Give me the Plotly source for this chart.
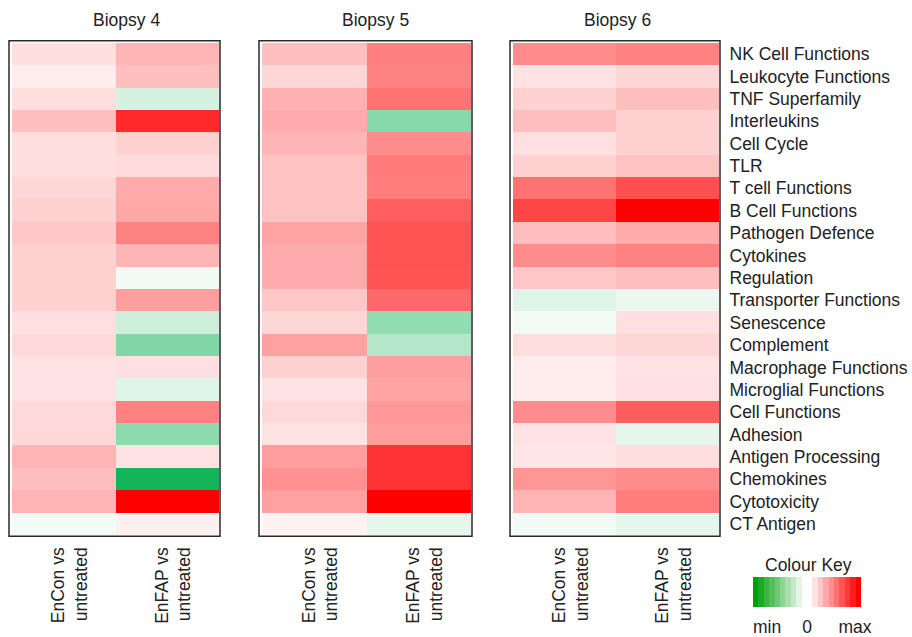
import plotly.graph_objects as go

# Gene-set categories (top to bottom) and comparison columns
categories = [
    "NK Cell Functions", "Leukocyte Functions", "TNF Superfamily", "Interleukins",
    "Cell Cycle", "TLR", "T cell Functions", "B Cell Functions", "Pathogen Defence",
    "Cytokines", "Regulation", "Transporter Functions", "Senescence", "Complement",
    "Macrophage Functions", "Microglial Functions", "Cell Functions", "Adhesion",
    "Antigen Processing", "Chemokines", "Cytotoxicity", "CT Antigen",
]
comparisons = ["EnCon vs<br>untreated", "EnFAP vs<br>untreated"]
biopsies = ["Biopsy 4", "Biopsy 5", "Biopsy 6"]

# Scaled scores (-1 = min, 0 = no change, 1 = max)
biopsy4_encon = [0.13, 0.07, 0.13, 0.25, 0.13, 0.13, 0.16, 0.18, 0.22, 0.18, 0.18,
                 0.18, 0.12, 0.15, 0.11, 0.11, 0.15, 0.15, 0.29, 0.25, 0.29, -0.055]
biopsy4_enfap = [0.29, 0.25, -0.18, 0.84, 0.18, 0.14, 0.33, 0.34, 0.49, 0.29, -0.06,
                 0.38, -0.21, -0.53, 0.12, -0.13, 0.49, -0.49, 0.11, -1.0, 1.0, 0.06]
biopsy5_encon = [0.25, 0.16, 0.31, 0.33, 0.29, 0.24, 0.24, 0.24, 0.36, 0.33, 0.33,
                 0.22, 0.16, 0.37, 0.18, 0.11, 0.15, 0.11, 0.38, 0.43, 0.37, 0.05]
biopsy5_enfap = [0.50, 0.49, 0.55, -0.51, 0.45, 0.52, 0.51, 0.63, 0.68, 0.68, 0.67,
                 0.59, -0.47, -0.32, 0.38, 0.36, 0.40, 0.39, 0.80, 0.80, 1.0, -0.11]
biopsy6_encon = [0.45, 0.11, 0.18, 0.25, 0.12, 0.18, 0.55, 0.73, 0.26, 0.45, 0.22,
                 -0.13, -0.05, 0.13, 0.07, 0.07, 0.45, 0.11, 0.10, 0.41, 0.29, -0.06]
biopsy6_enfap = [0.49, 0.16, 0.25, 0.18, 0.18, 0.24, 0.69, 1.0, 0.33, 0.49, 0.25,
                 -0.09, 0.12, 0.16, 0.11, 0.12, 0.63, -0.11, 0.13, 0.45, 0.51, -0.11]

key_title = "Colour Key"
key_ticks = ["min", "0", "max"]

W, H = 912, 637
TEXT = "#222222"
FONT = "Arial, Liberation Sans, sans-serif"
FS = 17.5


def fx(p):
    return p / W


def fy(p):
    return 1 - p / H


cell_scale = [[0.0, "rgb(20,180,90)"], [0.5, "rgb(255,255,255)"], [1.0, "rgb(255,0,0)"]]


# Stepped green-white-red ramp for the colour key
def stepped_key(n_side=10):
    lo, mid, hi = (0, 158, 8), (255, 255, 255), (255, 0, 0)
    cols = []
    for i in range(n_side):
        t = i / (n_side - 1)
        cols.append(tuple(round(lo[k] + (mid[k] - lo[k]) * t) for k in range(3)))
    for i in range(n_side):
        t = i / (n_side - 1)
        cols.append(tuple(round(mid[k] + (hi[k] - mid[k]) * t) for k in range(3)))
    n = len(cols)
    scale = []
    for i, c in enumerate(cols):
        s = f"rgb({c[0]},{c[1]},{c[2]})"
        scale.append([i / n, s])
        scale.append([(i + 1) / n, s])
    return scale


panel_values = [
    (biopsy4_encon, biopsy4_enfap),
    (biopsy5_encon, biopsy5_enfap),
    (biopsy6_encon, biopsy6_enfap),
]
panel_px = [(12, 219), (262, 471), (513, 719)]
title_px = [127, 375, 617]
cell_top, cell_bottom = 43, 537

fig = go.Figure()
shapes = []
annotations = []

for i, ((c1, c2), (x0, x1)) in enumerate(zip(panel_values, panel_px)):
    n = i + 1
    z = [[a, b] for a, b in zip(c1, c2)]
    fig.add_trace(go.Heatmap(
        z=z, x=comparisons, y=categories,
        colorscale=cell_scale, zmin=-1, zmax=1, showscale=False,
        xaxis=f"x{n}" if n > 1 else "x", yaxis=f"y{n}" if n > 1 else "y",
        hovertemplate="%{y}<br>%{x}: %{z}<extra></extra>",
    ))
    xa = dict(domain=[fx(x0), fx(x1)], tickangle=-90, showgrid=False, zeroline=False,
              showline=False, ticks="outside", ticklen=4, tickcolor="rgba(0,0,0,0)",
              ticklabelshift=6,
              tickfont=dict(family=FONT, size=FS, color=TEXT), fixedrange=True)
    ya = dict(domain=[fy(cell_bottom), fy(cell_top)], autorange="reversed",
              showgrid=False, zeroline=False, showline=False, fixedrange=True,
              showticklabels=(n == 3), side="right",
              ticks="outside" if n == 3 else "", ticklen=6, tickcolor="rgba(0,0,0,0)",
              tickfont=dict(family=FONT, size=FS, color=TEXT))
    if n > 1:
        xa["anchor"] = f"y{n}"
        ya["anchor"] = f"x{n}"
    fig.update_layout({f"xaxis{n if n > 1 else ''}": xa, f"yaxis{n if n > 1 else ''}": ya})

    shapes.append(dict(type="rect", xref="paper", yref="paper",
                       x0=fx(x0 - 3), x1=fx(x1 + 1), y0=fy(cell_bottom + 1), y1=fy(cell_top - 2),
                       line=dict(color="#2a2a2a", width=1.5), fillcolor="rgba(0,0,0,0)"))
    annotations.append(dict(text=biopsies[i], xref="paper", yref="paper",
                            x=fx(title_px[i]), y=fy(20), xanchor="center", yanchor="middle",
                            showarrow=False, font=dict(family=FONT, size=FS, color=TEXT)))

# Colour key: a colour bar carried by an off-range trace
fig.add_trace(go.Heatmap(
    z=[[-1, 1]], x=[0, 1], y=[0], xaxis="x4", yaxis="y4",
    colorscale=stepped_key(), zmin=-1, zmax=1, showscale=True, hoverinfo="skip",
    colorbar=dict(
        orientation="h", lenmode="pixels", len=108, thickness=30,
        x=fx(807), xanchor="center", y=fy(579), yanchor="top",
        xpad=0, ypad=0, outlinewidth=0,
        tickvals=[-0.74, 0, 0.89], ticktext=key_ticks,
        ticks="outside", ticklen=5, tickcolor="rgba(0,0,0,0)",
        tickfont=dict(family=FONT, size=FS, color=TEXT),
    ),
))
annotations.append(dict(text=key_title, xref="paper", yref="paper",
                        x=fx(808), y=fy(567), xanchor="center", yanchor="middle",
                        showarrow=False, font=dict(family=FONT, size=FS, color=TEXT)))
fig.update_layout(
    xaxis4=dict(domain=[0.9, 0.91], range=[10, 11], visible=False, anchor="y4"),
    yaxis4=dict(domain=[0.0, 0.01], range=[10, 11], visible=False, anchor="x4"),
)

fig.update_layout(
    width=W, height=H, margin=dict(l=0, r=0, t=0, b=0),
    paper_bgcolor="white", plot_bgcolor="white",
    shapes=shapes, annotations=annotations,
    font=dict(family=FONT, size=FS, color=TEXT),
)

fig.write_html("out.html")
